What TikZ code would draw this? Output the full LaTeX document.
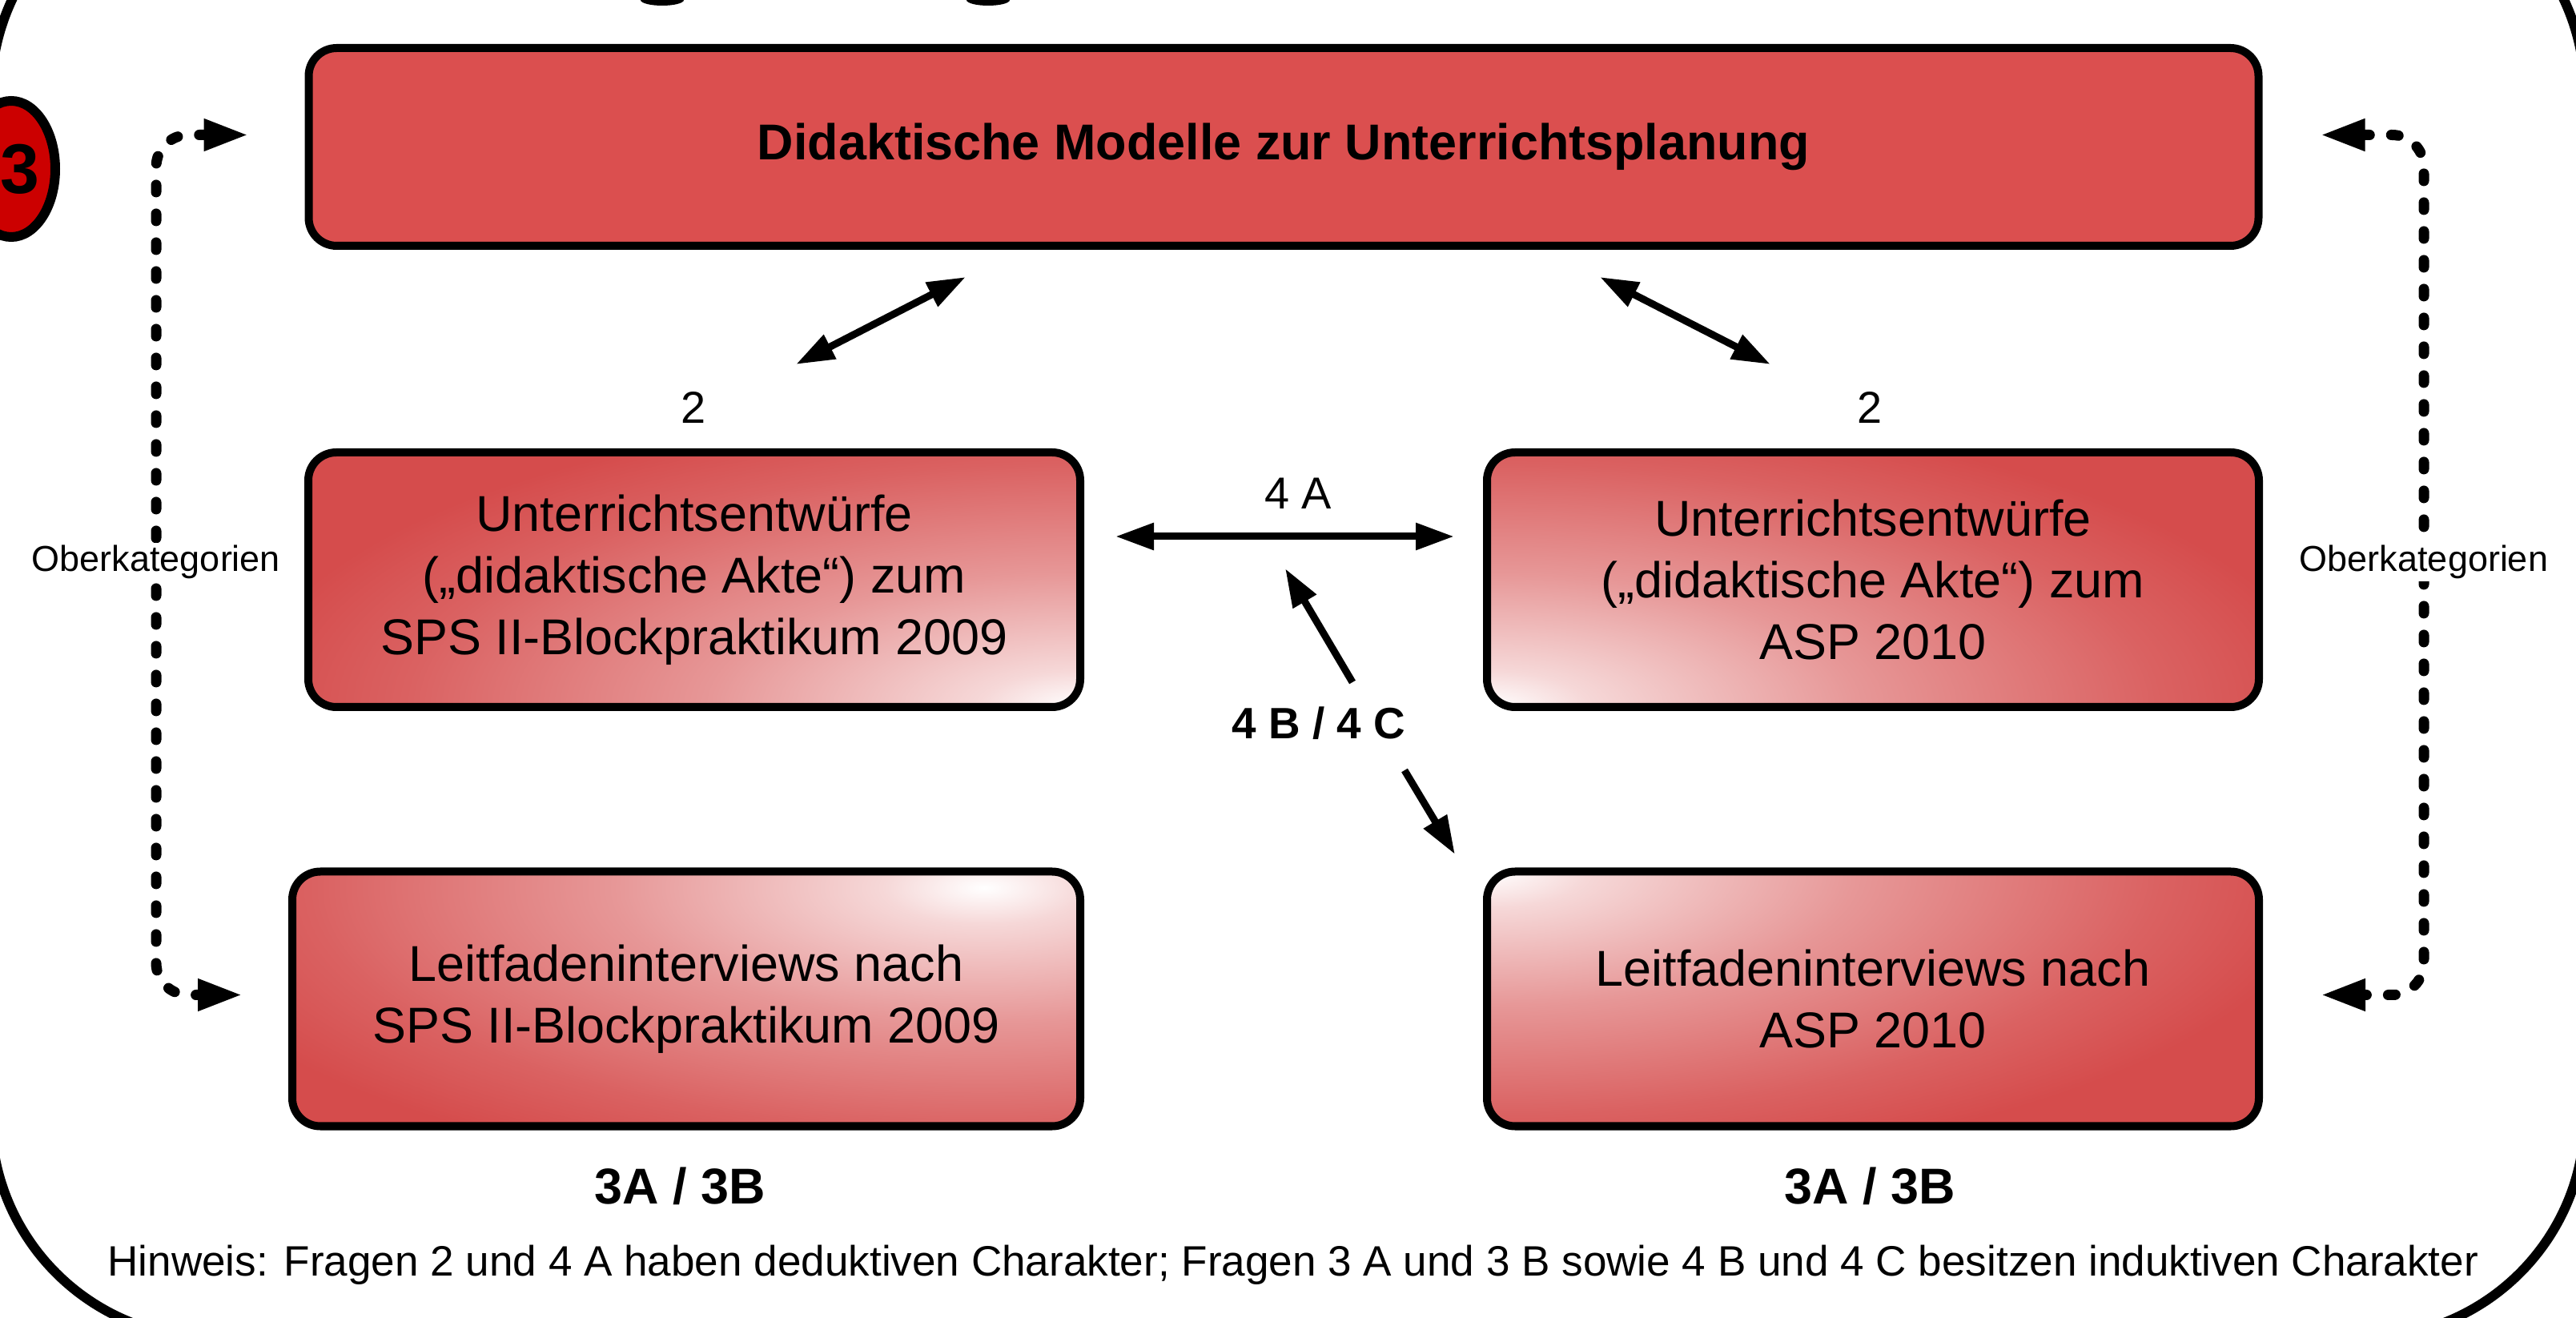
\documentclass[tikz,border=0pt]{standalone}
\usepackage{fontspec}
\setmainfont{Liberation Sans}
\usetikzlibrary{arrows.meta,shapes.geometric}
\definecolor{boxred}{RGB}{213,76,76}
\definecolor{topred}{RGB}{219,79,79}
\definecolor{badgered}{RGB}{204,0,0}
\pgfdeclareradialshading{glowshade}{\pgfpoint{0bp}{0bp}}{color(0bp)=(white); color(3bp)=(boxred!22!white); color(11bp)=(boxred!58!white); color(20bp)=(boxred!88!white); color(25bp)=(boxred); color(50bp)=(boxred)}

\begin{document}
\begin{tikzpicture}[x=1cm, y=1cm,
  box/.style={draw, line width=0.1cm, rounded corners=0.35cm, minimum width=9.64cm, minimum height=3.18cm, align=center, font=\fontsize{17.9}{21.9}\selectfont},
  glow/.style={fill=boxred, path picture={\shade[shading=glowshade] (#1) ellipse (10.5cm and 3.8cm);}},
  twohead/.style={{Triangle[length=0.48cm,width=0.32cm]}-{Triangle[length=0.48cm,width=0.32cm]}, line width=0.09cm},
  onehead/.style={-{Triangle[length=0.48cm,width=0.32cm]}, line width=0.09cm},
  dotline/.style={{Triangle[length=0.56cm,width=0.37cm]}-{Triangle[length=0.56cm,width=0.37cm]}, line width=0.13cm, line cap=round, dash pattern=on 0.09cm off 0.27cm, rounded corners=0.4cm},
  lbl/.style={font=\fontsize{15.9}{18}\selectfont},
  side/.style={fill=white, inner sep=1pt, font=\fontsize{12.8}{15}\selectfont},
  qnum/.style={font=\bfseries\fontsize{17.9}{20}\selectfont}]

\useasboundingbox (0,0) rectangle (32.17,-16.46);
\clip (0,0) rectangle (32.17,-16.46);

\draw [line width=0.12cm, rounded corners=2.77cm] (-0.11,1.60) rectangle (32.28,-16.71);
\fill (8.27,0) ellipse (0.27 and 0.07);
\fill (12.34,0) ellipse (0.27 and 0.07);
\node [ellipse, draw, line width=0.12cm, fill=badgered, minimum width=1.10cm, minimum height=1.70cm] (badge) at (0.14,-2.11) {};
\node [font=\bfseries\fontsize{25}{25}\selectfont, inner sep=0pt] (n3) at (0.25,-2.11) {3};

\node [box, fill=topred, minimum width=24.35cm, minimum height=2.47cm, font=\bfseries\fontsize{17.9}{21.9}\selectfont] (top) at (16.03,-1.835) {Didaktische Modelle zur Unterrichtsplanung};
\node [box, glow={path picture bounding box.south east}] (midL) at (8.67,-7.24) {Unterrichtsentwürfe\\(„didaktische Akte“) zum\\SPS II-Blockpraktikum 2009};
\node [box, glow={path picture bounding box.south west}] (midR) at (23.39,-7.24) {Unterrichtsentwürfe\\(„didaktische Akte“) zum\\ASP 2010};
\node [box, minimum width=9.84cm, glow={[shift={(-1.2cm,-0.2cm)}]path picture bounding box.north east}] (botL) at (8.57,-12.475) {Leitfadeninterviews nach\\SPS II-Blockpraktikum 2009};
\node [box, glow={path picture bounding box.north west}] (botR) at (23.39,-12.475) {Leitfadeninterviews nach\\ASP 2010};

\coordinate (lx) at (1.95,-7.02);
\coordinate (rx) at (30.27,-7.02);
\draw [dotline] ([xshift=-0.7cm, yshift=0.15cm]top.west) -| (lx) |- ([xshift=-0.57cm, yshift=0.05cm]botL.west);
\draw [dotline] ([xshift=0.72cm, yshift=0.15cm]top.east) -| (rx) |- ([xshift=0.72cm, yshift=0.05cm]botR.east);
\node [side] (okl) at (lx) {Oberkategorien};
\node [side] (okr) at (rx) {Oberkategorien};

\coordinate (d1a) at (9.94,-4.55);
\coordinate (d1b) at (12.06,-3.46);
\coordinate (d2a) at (19.98,-3.46);
\coordinate (d2b) at (22.11,-4.55);
\draw [twohead] (d1a) -- (d1b);
\draw [twohead] (d2a) -- (d2b);
\node [lbl] (n2l) at (8.66,-5.09) {2};
\node [lbl] (n2r) at (23.35,-5.09) {2};

\draw [twohead] ([shift={(0.39cm,0.54cm)}]midL.east) -- ([shift={(-0.36cm,0.54cm)}]midR.west);
\node [lbl] (n4a) at (16.21,-6.16) {4 A};

\node [font=\bfseries\fontsize{15.6}{18}\selectfont] (n4bc) at (16.47,-9.03) {4 B / 4 C};
\coordinate (u4a) at (16.89,-8.52);
\coordinate (u4b) at (16.05,-7.10);
\coordinate (w4a) at (17.54,-9.62);
\coordinate (w4b) at (18.17,-10.67);
\draw [onehead] (u4a) -- (u4b);
\draw [onehead] (w4a) -- (w4b);

\node [qnum] (n3l) at (8.49,-14.81) {3A / 3B};
\node [qnum] (n3r) at (23.35,-14.81) {3A / 3B};
\node [font=\fontsize{15.1}{17}\selectfont] (hint) at (16.15,-15.80) {Hinweis: Fragen 2 und 4 A haben deduktiven Charakter; Fragen 3 A und 3 B sowie 4 B und 4 C besitzen induktiven Charakter};

\end{tikzpicture}
\end{document}
